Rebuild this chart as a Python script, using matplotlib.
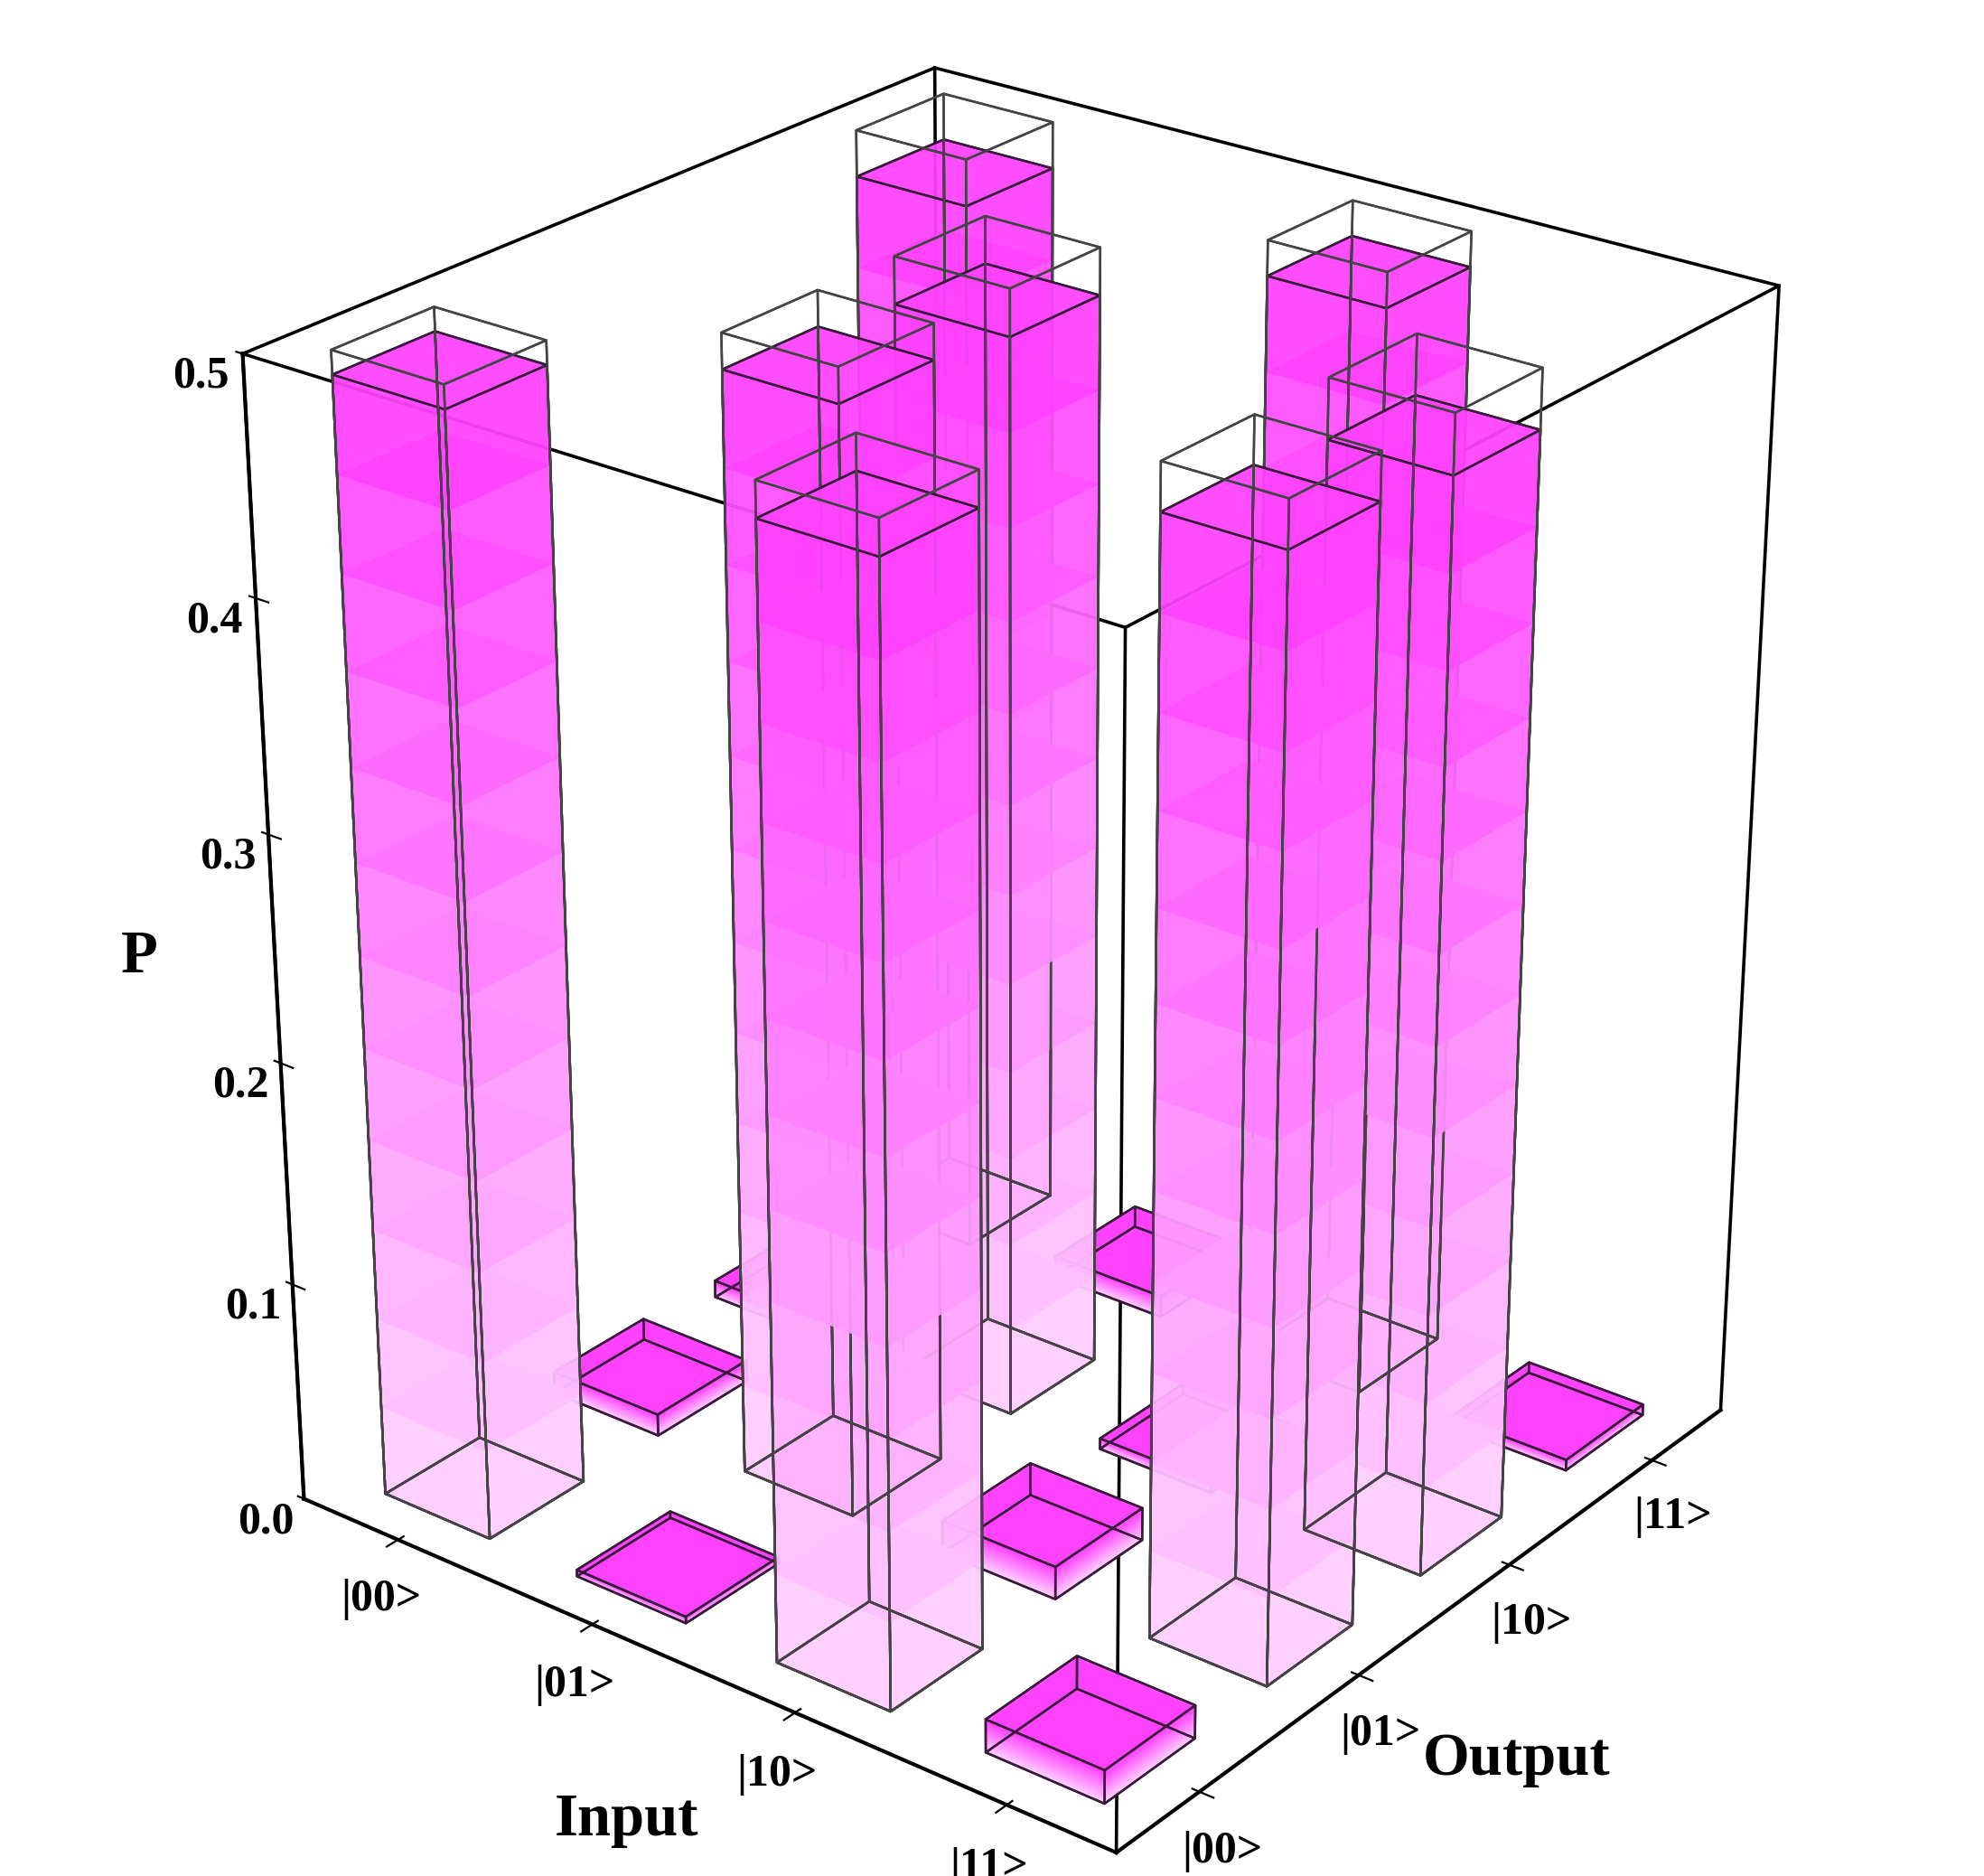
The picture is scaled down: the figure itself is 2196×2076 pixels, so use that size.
import numpy as np
import matplotlib
matplotlib.use("Agg")
import matplotlib.pyplot as plt
from matplotlib.colors import to_rgba

states = ["|00>", "|01>", "|10>", "|11>"]
# rows: Input |00>..|11>, cols: Output |00>..|11>
P = np.array([
    [0.490, 0.010, 0.008, 0.480],
    [0.003, 0.485, 0.480, 0.010],
    [0.485, 0.015, 0.005, 0.485],
    [0.015, 0.480, 0.475, 0.005],
])
ideal = np.array([
    [0.5, 0, 0, 0.5],
    [0, 0.5, 0.5, 0],
    [0.5, 0, 0, 0.5],
    [0, 0.5, 0.5, 0],
])

plt.rcParams['font.family'] = ['Liberation Serif', 'DejaVu Serif']
fig = plt.figure(figsize=(10.98, 10.38), dpi=200)
ax = fig.add_axes([-0.04, -0.06, 1.08, 1.12], projection='3d')
ax.view_init(elev=26, azim=-52)
ax.set_proj_type('persp', focal_length=0.6)

w = 0.55
light = np.array(to_rgba('#ffd2ff'))
dark = np.array(to_rgba('#ff3cff'))
nseg = 12
for i in range(4):
    for o in range(4):
        v = P[i, o]
        x0, y0 = i - w / 2, o - w / 2
        edges = np.linspace(0, v, nseg + 1)
        for k in range(nseg):
            t = (k + 0.5) / nseg
            c = light * (1 - t) + dark * t
            c[3] = 0.75
            ax.bar3d(x0, y0, edges[k], w, w, edges[k + 1] - edges[k],
                     color=c, shade=False, linewidth=0)
        ax.bar3d(x0, y0, 0, w, w, v, color=(0, 0, 0, 0), edgecolor='#3a1a3a',
                 linewidth=0.9, shade=False)
        if ideal[i, o] > 0:
            ax.bar3d(x0, y0, 0, w, w, ideal[i, o], color=(0, 0, 0, 0),
                     edgecolor='#444444', linewidth=0.9, shade=False)

lo, hi, zt = -0.5, 3.5, 0.5
# box frame
for (xa, ya) in [(lo, lo), (hi, lo), (lo, hi), (hi, hi)]:
    ax.plot([xa, xa], [ya, ya], [0, zt], color='black', lw=1.3)
for z in [zt]:
    ax.plot([lo, hi, hi, lo, lo], [lo, lo, hi, hi, lo], [z] * 5, color='black', lw=1.3)

ax.set_xlim(lo, hi)
ax.set_ylim(lo, hi)
ax.set_zlim(0, zt)
ax.set_xticks(range(4))
ax.set_xticklabels(states, fontsize=18, fontweight='bold')
ax.set_yticks(range(4))
ax.set_yticklabels(states, fontsize=18, fontweight='bold')
ax.set_zticks([0, 0.1, 0.2, 0.3, 0.4, 0.5])
ax.set_zticklabels(['0.0', '0.1', '0.2', '0.3', '0.4', '0.5'], fontsize=18, fontweight='bold')
for a in (ax.xaxis, ax.yaxis, ax.zaxis):
    a.set_rotate_label(False)
ax.set_xlabel('Input', fontsize=24, fontweight='bold', labelpad=22, rotation=0)
ax.set_ylabel('Output', fontsize=24, fontweight='bold', labelpad=22, rotation=0)
ax.set_zlabel('P', fontsize=24, fontweight='bold', labelpad=18, rotation=0)
ax.zaxis._axinfo['juggled'] = (1, 2, 0)

for axis in (ax.xaxis, ax.yaxis, ax.zaxis):
    axis.set_pane_color((1, 1, 1, 0))
    axis.pane.set_edgecolor('black')
    axis._axinfo['grid']['linewidth'] = 0
    axis.line.set_color('black')
    axis.line.set_linewidth(1.5)
ax.grid(False)
ax.set_box_aspect((1, 1, 1.2), zoom=0.9)

fig.savefig('out.png', dpi=200)
